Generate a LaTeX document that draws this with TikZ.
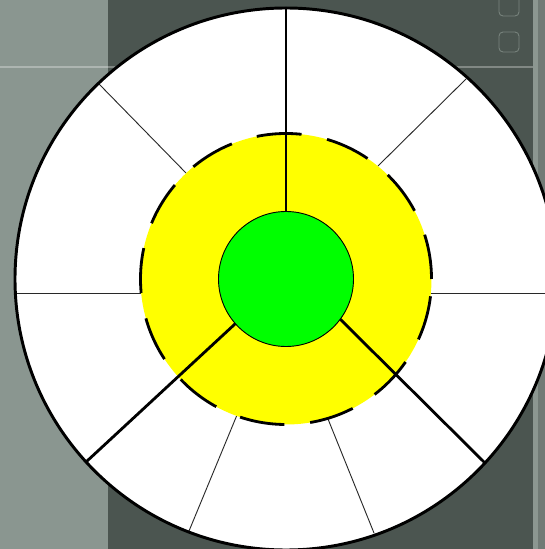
\documentclass[tikz,border=0pt]{standalone}
\usetikzlibrary{calc}
\usepackage{tkz-euclide}
\definecolor{BackDark}{RGB}{75,85,80}
\definecolor{BackLight}{RGB}{138,150,144}
\definecolor{FrameClr}{RGB}{122,133,127}
\definecolor{StripClr}{RGB}{140,151,145}
\definecolor{RingClr}{rgb}{1,1,0}
\definecolor{CoreClr}{rgb}{0,1,0}
\definecolor{RayClr}{RGB}{40,40,40}

\begin{document}
\begin{tikzpicture}
\useasboundingbox (0,0) rectangle (27.25,27.45);
\begin{scope}
\clip (0,0) rectangle (27.25,27.45);

% window behind
\fill[BackDark] (0,0) rectangle (27.25,27.45);
\fill[BackLight] (0,0) rectangle (5.4,27.45);
\fill[white,opacity=.3] (0,24.03) rectangle (27.25,24.13);
\fill[StripClr] (26.65,0) rectangle (26.9,27.45);
\fill[FrameClr!80!BackDark] (26.9,0) rectangle (27.25,27.45);
\draw[FrameClr,line width=1.2pt,rounded corners=.2cm] (24.95,27.65) rectangle (25.95,26.65);
\draw[FrameClr,line width=1.2pt,rounded corners=.2cm] (24.95,25.85) rectangle (25.95,24.85);

\tkzDefPoints{14.3/13.5/O,14.3/27.05/A,21.575/13.5/Y,17.675/13.5/G}
\tkzDefPoints{14.3/16.85/T,11.75/11.25/U,4.3/4.35/U',17.0/11.5/V,24.25/4.3/V'}
\tkzDefPoints{4.95/23.25/P1,9.3/18.8/Q1,23.3/23.5/P2,18.9/19.15/Q2,
  0.77/12.8/P3,7.05/12.8/Q3,27.85/12.8/P4,21.55/12.8/Q4,
  9.45/0.9/P5,11.85/6.7/Q5,18.7/0.8/P6,16.4/6.5/Q6}

\tkzFillCircle[fill=white](O,A)

\tkzDrawSegments[line width=1.3pt,color=RayClr](P1,Q1 P2,Q2 P3,Q3 P4,Q4 P5,Q5 P6,Q6)

\tkzFillCircle[fill=RingClr](O,Y)
\tkzDrawCircle[line width=4pt,color=black,dash pattern=on 2.25cm off 1.3cm](O,Y)

\tkzDrawSegments[line width=4pt,color=black](T,A U,U' V,V')

\tkzFillCircle[fill=CoreClr](O,G)
\tkzDrawCircle[line width=1.3pt,color=black](O,G)

\tkzDrawCircle[line width=4.2pt,color=black](O,A)
\end{scope}
\end{tikzpicture}
\end{document}
